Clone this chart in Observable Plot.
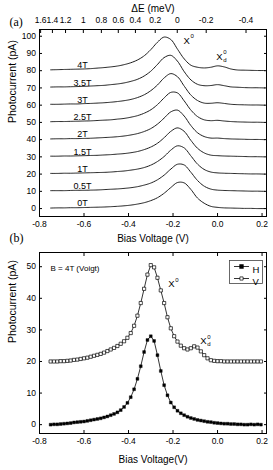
<!DOCTYPE html>
<html><head><meta charset="utf-8">
<script src="https://cdn.jsdelivr.net/npm/d3@7"></script>
<script src="https://cdn.jsdelivr.net/npm/@observablehq/plot@0.6"></script>
<style>
body{margin:0;background:#fff}
#wrap{position:relative;width:273px;height:470px;overflow:hidden;background:#fff}
#wrap svg{position:absolute;left:0}
</style></head><body><div id="wrap"></div>
<script>
// ---------- Panel (a): photocurrent traces vs bias, offset by 10 pA per field ----------
const fields = ["0T","0.5T","1T","1.5T","2T","2.5T","3T","3.5T","4T"];
const offsets = [0,10,20,30,40,50,60,70,80];
const biasA = [-0.75,-0.72,-0.69,-0.66,-0.63,-0.60,-0.57,-0.54,-0.51,-0.48,-0.45,-0.42,-0.39,-0.36,-0.33,-0.30,-0.27,-0.24,-0.21,-0.18,-0.15,-0.12,-0.09,-0.06,-0.03,0.00,0.03,0.06,0.09,0.12,0.15,0.18,0.21];
const pc0T  = [0.3,0.4,0.4,0.5,0.5,0.6,0.7,0.8,0.9,1.1,1.3,1.6,2.0,2.6,3.4,4.6,6.3,8.9,12.2,15.1,14.9,11.1,6.1,3.1,1.3,0.7,0.4,0.3,0.2,0.1,0.1,0.0,0.0];
const pc05T = [0.4,0.4,0.4,0.5,0.6,0.6,0.7,0.8,1.0,1.2,1.4,1.7,2.1,2.7,3.6,4.8,6.7,9.4,12.9,15.7,15.3,11.1,6.3,3.0,1.3,0.7,0.5,0.4,0.3,0.2,0.1,0.1,0.0];
const pc1T  = [0.4,0.4,0.5,0.5,0.6,0.7,0.8,0.9,1.0,1.2,1.5,1.8,2.3,2.9,3.8,5.2,7.3,10.2,13.9,16.4,15.2,10.6,5.8,2.7,1.2,0.7,0.5,0.4,0.3,0.2,0.1,0.1,0.0];
const pc15T = [0.4,0.4,0.5,0.5,0.6,0.7,0.8,0.9,1.1,1.3,1.6,1.9,2.4,3.1,4.2,5.7,7.9,11.1,14.8,16.8,14.8,9.6,5.0,2.3,1.0,0.7,0.5,0.4,0.3,0.2,0.1,0.1,0.0];
const pc2T  = [0.4,0.5,0.5,0.6,0.6,0.7,0.8,1.0,1.2,1.4,1.7,2.1,2.7,3.5,4.7,6.4,9.0,12.5,16.1,17.1,13.7,8.2,4.0,1.8,0.9,0.9,0.6,0.4,0.3,0.2,0.1,0.1,0.0];
const pc25T = [0.4,0.5,0.5,0.6,0.7,0.8,0.9,1.1,1.3,1.5,1.9,2.3,3.0,3.9,5.3,7.3,10.3,14.2,17.4,17.1,12.5,7.2,3.4,1.5,1.0,1.2,0.8,0.5,0.3,0.2,0.1,0.1,0.0];
const pc3T  = [0.5,0.5,0.6,0.7,0.7,0.9,1.0,1.2,1.4,1.7,2.1,2.6,3.3,4.4,6.0,8.4,11.7,15.8,18.3,16.5,11.1,5.9,2.7,1.2,1.1,1.4,1.0,0.5,0.3,0.2,0.1,0.1,0.0];
const pc35T = [0.5,0.6,0.6,0.7,0.8,0.9,1.1,1.3,1.5,1.9,2.3,2.9,3.8,5.0,6.9,9.7,13.6,17.6,18.9,15.5,9.5,4.7,2.1,1.3,1.4,1.9,1.3,0.6,0.4,0.2,0.1,0.1,0.0];
const pc4T  = [0.5,0.6,0.7,0.8,0.9,1.0,1.2,1.5,1.8,2.2,2.7,3.5,4.6,6.2,8.6,12.2,16.5,19.5,18.1,12.5,6.9,3.2,2.0,1.6,2.0,2.8,2.2,1.0,0.4,0.3,0.2,0.1,0.1];
const tracesA = [pc0T,pc05T,pc1T,pc15T,pc2T,pc25T,pc3T,pc35T,pc4T];
const yTicksA = [0,10,20,30,40,50,60,70,80,90,100];
const xTicks = [-0.8,-0.6,-0.4,-0.2,0,0.2];
// top axis: ΔE (meV) tick labels and the bias voltage where each sits
const deltaELabels = ["1.6","1.4","1.2","1","0.8","0.6","0.4","0.2","0","-0.2","-0.4"];
const deltaEBias = [-0.795,-0.742,-0.683,-0.603,-0.522,-0.446,-0.369,-0.280,-0.181,-0.051,0.128];
const annA = [{t:"X", sup:"0", sub:"", bias:-0.139, pc:97.5},{t:"X", sup:"0", sub:"d", bias:0.009, pc:88.2}];
const fieldLabelBias = -0.607;

// ---------- Panel (b): B = 4T (Voigt), H and V polarisation ----------
const biasB = [-0.75,-0.735,-0.72,-0.705,-0.69,-0.675,-0.66,-0.645,-0.63,-0.615,-0.6,-0.585,-0.57,-0.555,-0.54,-0.525,-0.51,-0.495,-0.48,-0.465,-0.45,-0.435,-0.42,-0.405,-0.39,-0.375,-0.36,-0.345,-0.33,-0.315,-0.3,-0.285,-0.27,-0.255,-0.24,-0.225,-0.21,-0.195,-0.18,-0.165,-0.15,-0.135,-0.12,-0.105,-0.09,-0.075,-0.06,-0.045,-0.03,-0.015,0,0.015,0.03,0.045,0.06,0.075,0.09,0.105,0.12,0.135,0.15,0.165,0.18,0.195];
const pcH = [0.0,0.1,0.1,0.2,0.3,0.4,0.5,0.7,0.8,0.9,1.0,1.2,1.4,1.6,1.8,2.0,2.3,2.6,3.0,3.4,3.9,4.6,5.6,6.9,8.7,11.2,14.5,18.5,23.0,26.8,28.0,26.5,22.0,17.0,12.5,9.3,7.0,5.5,4.4,3.6,3.0,2.5,2.1,1.8,1.5,1.3,1.1,0.9,0.8,0.6,0.5,0.4,0.3,0.3,0.2,0.2,0.1,0.1,0.0,0.0,0.1,0.0,0.1,0.0];
const pcV = [20.0,20.0,20.0,20.1,20.1,20.2,20.3,20.5,20.6,20.8,21.0,21.2,21.5,21.8,22.1,22.4,22.8,23.3,23.8,24.3,24.9,25.6,26.4,27.5,29.0,31.3,34.5,38.5,43.0,47.5,50.5,49.8,46.5,42.5,38.5,34.0,30.5,28.0,26.3,25.0,24.2,23.8,24.2,24.8,24.4,23.2,22.0,21.0,20.4,20.2,20.1,20.1,20.0,20.0,20.0,20.0,20.0,20.0,20.0,20.0,20.0,20.0,20.0,20.0];
const yTicksB = [0,10,20,30,40,50];
const annB = [{t:"X", sup:"0", sub:"", bias:-0.207, pc:44.4},{t:"X", sup:"0", sub:"d", bias:-0.063, pc:26.6}];
const legendItems = ["H","V"];

// ---------- build tables ----------
const rowsA = [];
fields.forEach((f, k) => tracesA[k].forEach((v, j) => rowsA.push({field: f, bias: biasA[j], pc: v + offsets[k]})));
const rowsH = biasB.map((b, i) => ({series: "H", bias: b, pc: pcH[i]}));
const rowsV = biasB.map((b, i) => ({series: "V", bias: b, pc: pcV[i]}));
const deMap = new Map(deltaEBias.map((b, i) => [b, deltaELabels[i]]));

const font = "'Liberation Sans', Arial, Helvetica, sans-serif";
const serif = "'Liberation Serif', 'Times New Roman', serif";
const tickFont = 8.5;
const fmt1 = d => d.toFixed(1);
const svgStyle = {fontFamily: font, fontSize: "8.5px", background: "transparent", overflow: "visible"};
const segment = {draw(ctx) { ctx.moveTo(-7.5, 0); ctx.lineTo(7.5, 0); }};

const annoMarks = (ann) => [
  Plot.text(ann, {x: "bias", y: "pc", text: "t", fontSize: 9.5}),
  Plot.text(ann, {x: "bias", y: "pc", text: "sup", fontSize: 6, dx: 5.5, dy: -4}),
  Plot.text(ann, {x: "bias", y: "pc", text: "sub", fontSize: 6, dx: 5.5, dy: 3.5})
];

const plotA = Plot.plot({
  width: 273, height: 248,
  marginTop: 29, marginBottom: 32, marginLeft: 39, marginRight: 7,
  style: svgStyle,
  x: {domain: [-0.8, 0.22]},
  y: {domain: [-4.6, 103.9]},
  marks: [
    Plot.frame({stroke: "black"}),
    Plot.axisX({anchor: "bottom", ticks: xTicks, tickFormat: fmt1, tickSize: -3, tickPadding: 7, label: null, fontSize: tickFont}),
    Plot.axisX({anchor: "top", ticks: deltaEBias, tickFormat: d => deMap.get(d), tickSize: -3, tickPadding: 10, label: null, fontSize: tickFont}),
    Plot.axisY({anchor: "left", ticks: yTicksA, tickFormat: d => String(d), tickSize: -3, tickPadding: 6.5, label: null, fontSize: tickFont}),
    Plot.axisY({anchor: "right", ticks: yTicksA, tickFormat: () => "", tickSize: -3, label: null}),
    Plot.line(rowsA, {x: "bias", y: "pc", z: "field", curve: "catmull-rom", stroke: "black", strokeWidth: 0.9, strokeDasharray: "1,0.8"}),
    Plot.text(fields, {x: () => fieldLabelBias, y: (d, i) => offsets[i] + 3, text: d => d, fontSize: 9}),
    ...annoMarks(annA),
    Plot.text(["\u0394E (meV)"], {frameAnchor: "top", dy: -24.5, fontSize: 10}),
    Plot.text(["(a)"], {frameAnchor: "top-left", dx: -30, dy: -12, fontSize: 12, fontFamily: serif}),
    Plot.text(["Bias Voltage (V)"], {frameAnchor: "bottom", dy: 25, fontSize: 10}),
    Plot.text(["Photocurrent (pA)"], {frameAnchor: "left", dx: -27, rotate: -90, fontSize: 10.5})
  ]
});

const plotB = Plot.plot({
  width: 273, height: 244,
  marginTop: 26, marginBottom: 37, marginLeft: 39, marginRight: 7,
  style: svgStyle,
  x: {domain: [-0.8, 0.22]},
  y: {domain: [-2.8, 54.5]},
  marks: [
    Plot.frame({stroke: "black"}),
    Plot.axisX({anchor: "bottom", ticks: xTicks, tickFormat: fmt1, tickSize: -3, tickPadding: 7, label: null, fontSize: tickFont}),
    Plot.axisX({anchor: "top", ticks: xTicks, tickFormat: () => "", tickSize: -3, label: null}),
    Plot.axisY({anchor: "left", ticks: yTicksB, tickFormat: d => String(d), tickSize: -3, tickPadding: 6.5, label: null, fontSize: tickFont}),
    Plot.axisY({anchor: "right", ticks: yTicksB, tickFormat: () => "", tickSize: -3, label: null}),
    Plot.line(rowsH, {x: "bias", y: "pc", stroke: "black", strokeWidth: 0.8}),
    Plot.line(rowsV, {x: "bias", y: "pc", stroke: "black", strokeWidth: 0.8}),
    Plot.dot(rowsH, {x: "bias", y: "pc", symbol: "square", r: 1.6, fill: "black", stroke: "black", strokeWidth: 0.4}),
    Plot.dot(rowsV, {x: "bias", y: "pc", symbol: "square", r: 1.8, fill: "white", stroke: "black", strokeWidth: 0.7}),
    ...annoMarks(annB),
    Plot.text(["B = 4T (Voigt)"], {frameAnchor: "top-left", dx: 11, dy: 13, textAnchor: "start", fontSize: 8}),
    // legend
    Plot.frame({insetLeft: 190, insetRight: 4, insetTop: 8, insetBottom: 150, stroke: "#444", strokeWidth: 0.8}),
    Plot.dot([legendItems[0]], {frameAnchor: "top-right", dx: -25, dy: 14, symbol: segment, stroke: "black", strokeWidth: 0.8, fill: "none"}),
    Plot.dot([legendItems[0]], {frameAnchor: "top-right", dx: -25, dy: 14, symbol: "square", r: 1.6, fill: "black", stroke: "black"}),
    Plot.text([legendItems[0]], {frameAnchor: "top-right", dx: -14, dy: 14, textAnchor: "start", fontSize: 9.5}),
    Plot.dot([legendItems[1]], {frameAnchor: "top-right", dx: -25, dy: 26, symbol: segment, stroke: "black", strokeWidth: 0.8, fill: "none"}),
    Plot.dot([legendItems[1]], {frameAnchor: "top-right", dx: -25, dy: 26, symbol: "square", r: 1.8, fill: "white", stroke: "black", strokeWidth: 0.7}),
    Plot.text([legendItems[1]], {frameAnchor: "top-right", dx: -14, dy: 26, textAnchor: "start", fontSize: 9.5}),
    Plot.text(["(b)"], {frameAnchor: "top-left", dx: -30, dy: -19, fontSize: 12, fontFamily: serif}),
    Plot.text(["Bias Voltage(V)"], {frameAnchor: "bottom", dy: 29, fontSize: 10}),
    Plot.text(["Photocurrent (pA)"], {frameAnchor: "left", dx: -27, rotate: -90, fontSize: 10.5})
  ]
});

const wrap = document.getElementById("wrap");
plotA.style.top = "0px";
plotB.style.top = "226px";
wrap.append(plotA, plotB);
</script>
</body></html>
